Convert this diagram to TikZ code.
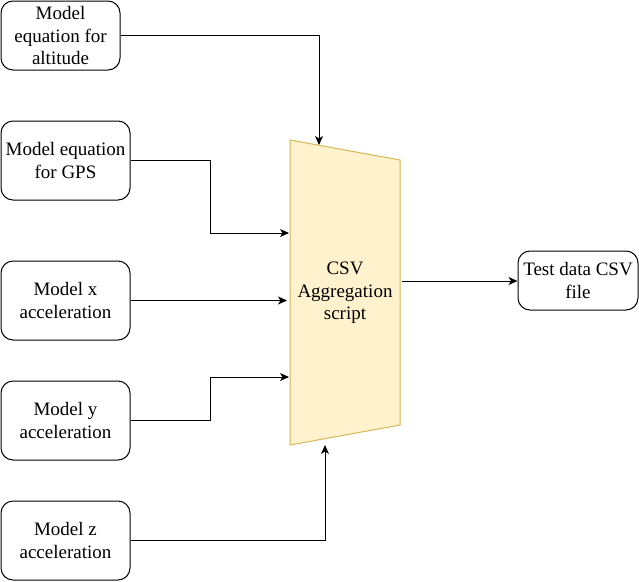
\documentclass[tikz,border=0pt]{standalone}
\usepackage{fontspec}
\setmainfont{Liberation Serif}
\usetikzlibrary{arrows.meta}
\definecolor{aggfill}{HTML}{FFF2CC}
\definecolor{aggdraw}{HTML}{D6B656}
\begin{document}
\begin{tikzpicture}[x=1pt,y=-1pt]
  \tikzset{box style/.style = {draw, rounded corners=12pt, align=center, inner sep=0pt, line width=1pt,
      font=\rmfamily\fontsize{19}{22.5}\selectfont},
    link style/.style = {-{Stealth[length=9pt,width=8pt,inset=2.5pt]}, line width=1pt}}
  \useasboundingbox (0,0) rectangle (639,581);

  \node[box style, minimum width=119pt, minimum height=69pt] (alt) at (60.5,35.5) {Model\\equation for\\altitude};
  \node[box style, minimum width=129pt, minimum height=79pt] (gps) at (65.5,160.5) {Model equation\\for GPS};
  \node[box style, minimum width=129pt, minimum height=79pt] (xacc) at (65.5,300.5) {Model x\\acceleration};
  \node[box style, minimum width=129pt, minimum height=79pt] (yacc) at (65.5,420.5) {Model y\\acceleration};
  \node[box style, minimum width=129pt, minimum height=79pt] (zacc) at (65.5,540.5) {Model z\\acceleration};
  \node[box style, minimum width=120pt, minimum height=59pt] (test) at (578,280.5) {Test data CSV\\file};

  \draw[fill=aggfill, draw=aggdraw, line width=1pt] (290,140) -- (400,160) -- (400,425) -- (290,445) -- cycle;
  \node[align=center, font=\rmfamily\fontsize{19}{22.5}\selectfont] (agg) at (345,293) {CSV\\Aggregation\\script};

  \coordinate (aggTop) at (319,145);
  \coordinate (aggW1) at (289,233);
  \coordinate (aggW2) at (287,300.5);
  \coordinate (aggW3) at (289,377);
  \coordinate (aggBot) at (325,445);
  \coordinate (aggE) at (402,281);

  \draw[link style] (alt.east) -| (aggTop);
  \draw[link style] (gps.east) -- ++(80,0) |- (aggW1);
  \draw[link style] (xacc.east) -- (aggW2);
  \draw[link style] (yacc.east) -- ++(80,0) |- (aggW3);
  \draw[link style] (zacc.east) -| (aggBot);
  \draw[link style] (aggE) -- (aggE -| test.west);
\end{tikzpicture}
\end{document}
